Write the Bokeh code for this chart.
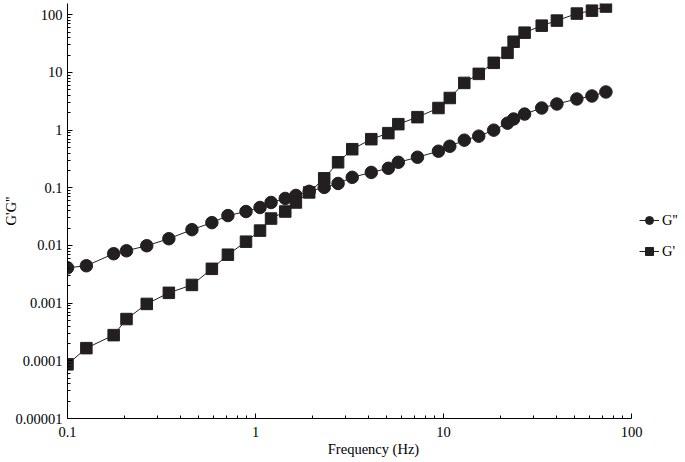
from bokeh.plotting import figure
from bokeh.models import FixedTicker, Legend, LegendItem, Range1d
from bokeh.embed import file_html
from bokeh.resources import INLINE

# ---- data ----
freq = [0.1, 0.126, 0.176, 0.206, 0.264, 0.346, 0.459, 0.586, 0.713, 0.89,
        1.057, 1.21, 1.44, 1.64, 1.93, 2.32, 2.75, 3.27, 4.13, 5.09,
        5.75, 7.27, 9.40, 10.8, 12.9, 15.4, 18.5, 21.9, 23.6, 27.0,
        33.3, 40.1, 51.2, 61.6, 73.1]
g_double = [0.0041, 0.00445, 0.0072, 0.0081, 0.0099, 0.0131, 0.0188, 0.0249, 0.033, 0.0388,
            0.0456, 0.0557, 0.0654, 0.0738, 0.087, 0.1017, 0.119, 0.152, 0.185, 0.218,
            0.277, 0.339, 0.431, 0.526, 0.67, 0.786, 1.0, 1.32, 1.56, 1.90,
            2.42, 2.84, 3.47, 3.91, 4.59]
g_single = [8.7e-5, 1.66e-4, 2.79e-4, 5.3e-4, 9.7e-4, 1.51e-3, 2.07e-3, 3.94e-3, 6.92e-3, 0.01164,
            0.0181, 0.0293, 0.0388, 0.0557, 0.0832, 0.146, 0.277, 0.467, 0.697, 0.887,
            1.27, 1.68, 2.42, 3.61, 6.59, 9.46, 14.7, 21.9, 34.1, 49.0,
            64.9, 79.3, 105.0, 118.0, 139.0]

x_ticks = [0.1, 1, 10, 100]
x_tick_labels = ["0.1", "1", "10", "100"]
y_ticks = [1e-5, 1e-4, 1e-3, 1e-2, 1e-1, 1, 10, 100]
y_tick_labels = ["0.00001", "0.0001", "0.001", "0.01", "0.1", "1", "10", "100"]

x_label = "Frequency (Hz)"
y_label = "G'G''"
names = ["G''", "G'"]

FONT = "Liberation Serif"
FS = "14.5px"
INK = "#231f20"

# frame is widened to the right (room for the legend); the axis itself stops at 100
p = figure(width=679, height=459, x_axis_type="log", y_axis_type="log",
           x_range=Range1d(0.1, 180), y_range=Range1d(1e-5, 157),
           output_backend="svg", toolbar_location=None,
           min_border_top=3, min_border_right=0, min_border_left=63, min_border_bottom=0)

p.outline_line_color = None
p.xgrid.visible = False
p.ygrid.visible = False
p.background_fill_color = "white"
p.border_fill_color = "white"

def minors(majors):
    out = []
    for m in majors[:-1]:
        for d in range(2, 10):
            out.append(m * d)
    return out

p.xaxis.ticker = FixedTicker(ticks=x_ticks, minor_ticks=minors(x_ticks))
p.yaxis.ticker = FixedTicker(ticks=y_ticks, minor_ticks=minors(y_ticks))
p.xaxis.major_label_overrides = dict(zip(x_ticks, x_tick_labels))
p.yaxis.major_label_overrides = dict(zip(y_ticks, y_tick_labels))
p.xaxis.bounds = (x_ticks[0], x_ticks[-1])

for ax in (p.xaxis, p.yaxis):
    ax.axis_line_color = "black"
    ax.axis_line_width = 1
    ax.major_tick_line_color = "black"
    ax.minor_tick_line_color = "black"
    ax.major_tick_in = 5
    ax.major_tick_out = 0
    ax.minor_tick_in = 3
    ax.minor_tick_out = 0
    ax.major_label_text_font = FONT
    ax.major_label_text_font_size = FS
    ax.major_label_text_color = "black"
    ax.axis_label_text_font = FONT
    ax.axis_label_text_font_size = FS
    ax.axis_label_text_font_style = "normal"
    ax.axis_label_text_color = "black"

p.xaxis.axis_label = x_label
p.yaxis.axis_label = y_label
p.xaxis.major_label_standoff = 8
p.xaxis.axis_label_standoff = 1
p.yaxis.major_label_standoff = 5
p.yaxis.axis_label_standoff = -7

l1 = p.line(freq, g_double, line_color=INK, line_width=1)
s1 = p.scatter(freq, g_double, marker="circle", size=12.5, fill_color=INK, line_color=INK)
l2 = p.line(freq, g_single, line_color=INK, line_width=1)
s2 = p.scatter(freq, g_single, marker="square", size=11.5, fill_color=INK, line_color=INK)

legend = Legend(items=[LegendItem(label=names[0], renderers=[l1, s1]),
                       LegendItem(label=names[1], renderers=[l2, s2])],
                location=(572, 157), orientation="vertical")
legend.border_line_color = None
legend.background_fill_alpha = 0
legend.label_text_font = FONT
legend.label_text_font_size = FS
legend.label_text_color = "black"
legend.glyph_width = 20
legend.glyph_height = 20
legend.spacing = 11
legend.padding = 2
legend.margin = 0
legend.label_standoff = 3
p.add_layout(legend, "center")

open("out.html", "w").write(file_html(p, INLINE))
